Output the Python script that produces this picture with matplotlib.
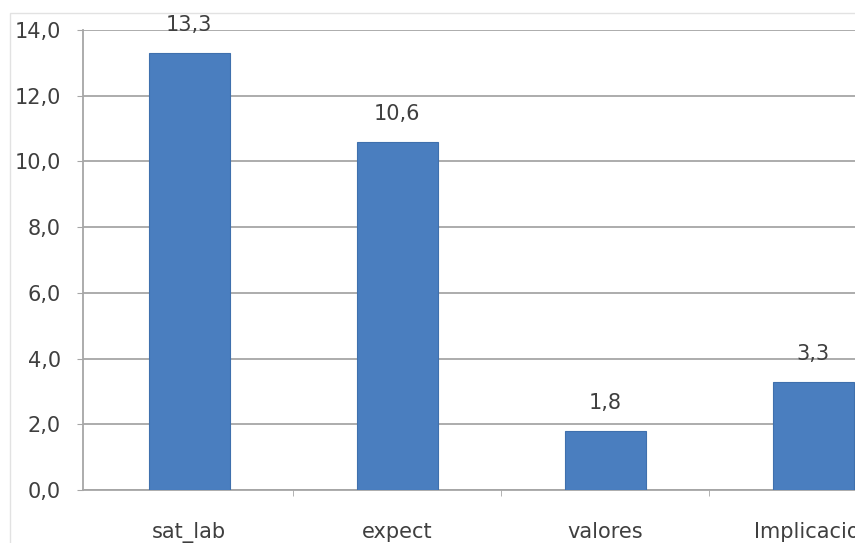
import numpy as np
import matplotlib
matplotlib.use("Agg")
import matplotlib.pyplot as plt
from matplotlib.patches import Rectangle

categories = ["sat_lab", "expect", "valores", "Implicacion"]
values = [13.3, 10.6, 1.8, 3.3]
y_ticks = [0, 2, 4, 6, 8, 10, 12, 14]

BAR = "#4a7ebf"
GRID = "#a6a6a6"
TEXT = "#3f3f3f"
FS = 15

W, H = 855, 543
fig = plt.figure(figsize=(W / 100, H / 100), dpi=100)
fig.patch.set_facecolor("white")

# faint chart-area frame, partly outside the crop
fig.add_artist(Rectangle((10 / W, -0.1), 1.2, (H - 13) / H + 0.1,
                         transform=fig.transFigure, fill=False,
                         edgecolor="#e2e2e2", lw=1.0))

ax = fig.add_axes([83 / W, (H - 490) / H, (W - 83) / W, 460 / H])
x = np.arange(len(categories))
bars = ax.bar(x, values, width=0.39, color=BAR, edgecolor="#3f70ad",
              linewidth=0.8, zorder=3)

for b, v in zip(bars, values):
    ax.annotate(f"{v:.1f}".replace(".", ","),
                (b.get_x() + b.get_width() / 2, v),
                xytext=(0, 13), textcoords="offset points",
                ha="center", va="bottom", fontsize=FS, color=TEXT)

ax.set_xlim(-0.51, 3.2)
ax.set_ylim(0, 14)
ax.set_yticks(y_ticks)
ax.set_yticklabels([f"{t:.1f}".replace(".", ",") for t in y_ticks],
                   fontsize=FS, color=TEXT)
ax.yaxis.grid(True, color=GRID, lw=1.3, zorder=0)
ax.set_axisbelow(True)

ax.set_xticks(x)
ax.set_xticklabels(categories, fontsize=FS, color=TEXT)
ax.set_xticks([0.5, 1.5, 2.5], minor=True)
ax.tick_params(axis="x", which="major", length=0, pad=23)
ax.tick_params(axis="x", which="minor", length=4, color=GRID)
ax.tick_params(axis="y", length=4, color=GRID, pad=12)

for side in ("top", "right"):
    ax.spines[side].set_visible(False)
ax.spines["left"].set_color(GRID)
ax.spines["bottom"].set_color(GRID)
ax.spines["left"].set_linewidth(1.3)
ax.spines["bottom"].set_linewidth(1.3)

fig.savefig("out.png", dpi=100)
